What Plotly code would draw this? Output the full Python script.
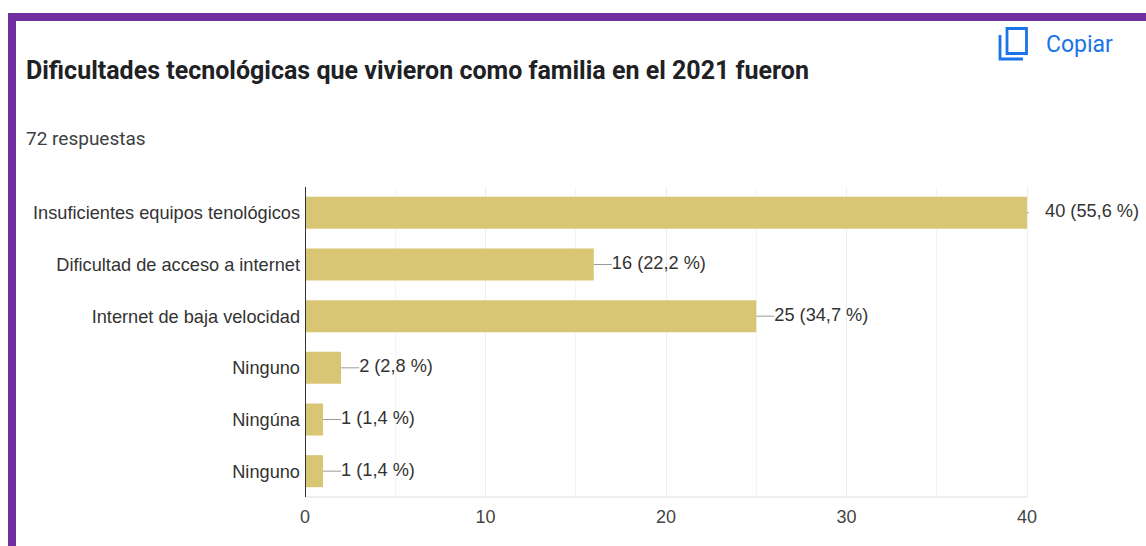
import plotly.graph_objects as go

categories = ["Insuficientes equipos tenológicos", "Dificultad de acceso a internet",
              "Internet de baja velocidad", "Ninguno", "Ningúna", "Ninguno"]
values = [40, 16, 25, 2, 1, 1]
percents = ["55,6", "22,2", "34,7", "2,8", "1,4", "1,4"]
leader_lengths = [0.1, 1, 1, 1, 1, 1]
x_ticks = [0, 10, 20, 30, 40]
x_minor_ticks = [5, 15, 25, 35]
x_max = 40
title_text = "Dificultades tecnológicas que vivieron como familia en el 2021 fueron"
subtitle_text = "72 respuestas"
copy_text = "Copiar"

W, H = 1146, 546
L, R, T, B = 305, 1027, 187, 497
FONT = "Roboto"
CHART_FONT = "Liberation Sans"
positions = list(range(len(categories)))


def xp(px):
    return (px - L) / (W - L)


def yp(py):
    return (B - py) / (B - T)


fig = go.Figure()
fig.add_trace(go.Bar(
    x=values, y=positions, orientation="h", width=0.62,
    marker=dict(color="#D9C674", line=dict(width=0)),
    error_x=dict(type="data", array=leader_lengths, arrayminus=[0] * len(values),
                 color="#9a9a9a", thickness=1, width=0),
    hoverinfo="skip",
))
fig.add_trace(go.Scatter(
    x=[v + 1 for v in values], y=positions, mode="text",
    text=[f"{v} ({p} %)" for v, p in zip(values, percents)],
    textposition="middle right", cliponaxis=False, hoverinfo="skip",
    textfont=dict(family=CHART_FONT, size=18.2, color="#333333"),
))

shapes = [
    dict(type="rect", xref="paper", yref="paper", x0=xp(8), x1=xp(W + 5), y0=yp(13), y1=yp(21),
         fillcolor="#70309F", line=dict(width=0), layer="above"),
    dict(type="rect", xref="paper", yref="paper", x0=xp(8), x1=xp(16), y0=yp(13), y1=yp(H + 5),
         fillcolor="#70309F", line=dict(width=0), layer="above"),
    # copy icon
    dict(type="rect", xref="paper", yref="paper", x0=xp(1007), x1=xp(1026.5), y0=yp(28.5), y1=yp(53.5),
         fillcolor="rgba(0,0,0,0)", line=dict(color="#1A73E8", width=2.8), layer="above"),
    dict(type="path", xref="paper", yref="paper", layer="above",
         path=(f"M {xp(1000)} {yp(35)} L {xp(1000)} {yp(59)} L {xp(1023)} {yp(59)}"),
         line=dict(color="#1A73E8", width=2.8)),
    # bottom baseline and left axis line
    dict(type="line", xref="x", yref="paper", x0=0, x1=x_max, y0=0, y1=0,
         line=dict(color="#eeeeee", width=2), layer="below"),
    dict(type="line", xref="x", yref="paper", x0=0, x1=0, y0=0, y1=1,
         line=dict(color="#333333", width=2), layer="above"),
]

texts = [
    (24, 70, title_text, 25, "#202124", True),
    (24, 138, subtitle_text, 19, "#3c4043", False),
    (1044, 44, copy_text, 23, "#1A73E8", False),
]
for px, py, t, s, c, bold in texts:
    fig.add_annotation(x=xp(px), y=yp(py), xref="paper", yref="paper",
                       text=f"<b>{t}</b>" if bold else t,
                       showarrow=False, xanchor="left", yanchor="middle",
                       font=dict(family=FONT, size=s, color=c))

fig.update_layout(
    width=W, height=H, margin=dict(l=L, r=0, t=T, b=H - B, autoexpand=False),
    paper_bgcolor="white", plot_bgcolor="white", showlegend=False, shapes=shapes,
    font=dict(family=CHART_FONT, size=18, color="#333333"),
    xaxis=dict(range=[0, x_max * (W - L) / (R - L)], tickmode="array", tickvals=x_ticks,
               ticktext=[str(t) for t in x_ticks], ticks="", showline=False, zeroline=False,
               gridcolor="#eeeeee", gridwidth=1,
               minor=dict(tickmode="array", tickvals=x_minor_ticks, showgrid=True,
                          gridcolor="#f5f5f5", gridwidth=1, ticks=""),
               tickfont=dict(family=CHART_FONT, size=18, color="#444444"),
               ticklabelstandoff=7),
    yaxis=dict(range=[len(categories) - 0.5, -0.5], tickmode="array", tickvals=positions,
               ticktext=categories, ticks="", showgrid=False, zeroline=False,
               showline=False, ticklabelstandoff=4,
               tickfont=dict(family=CHART_FONT, size=18.2, color="#333333")),
)

fig.write_html("out.html", config={"displayModeBar": False},
               post_script="document.body.style.margin='0';document.body.style.overflow='hidden';")
